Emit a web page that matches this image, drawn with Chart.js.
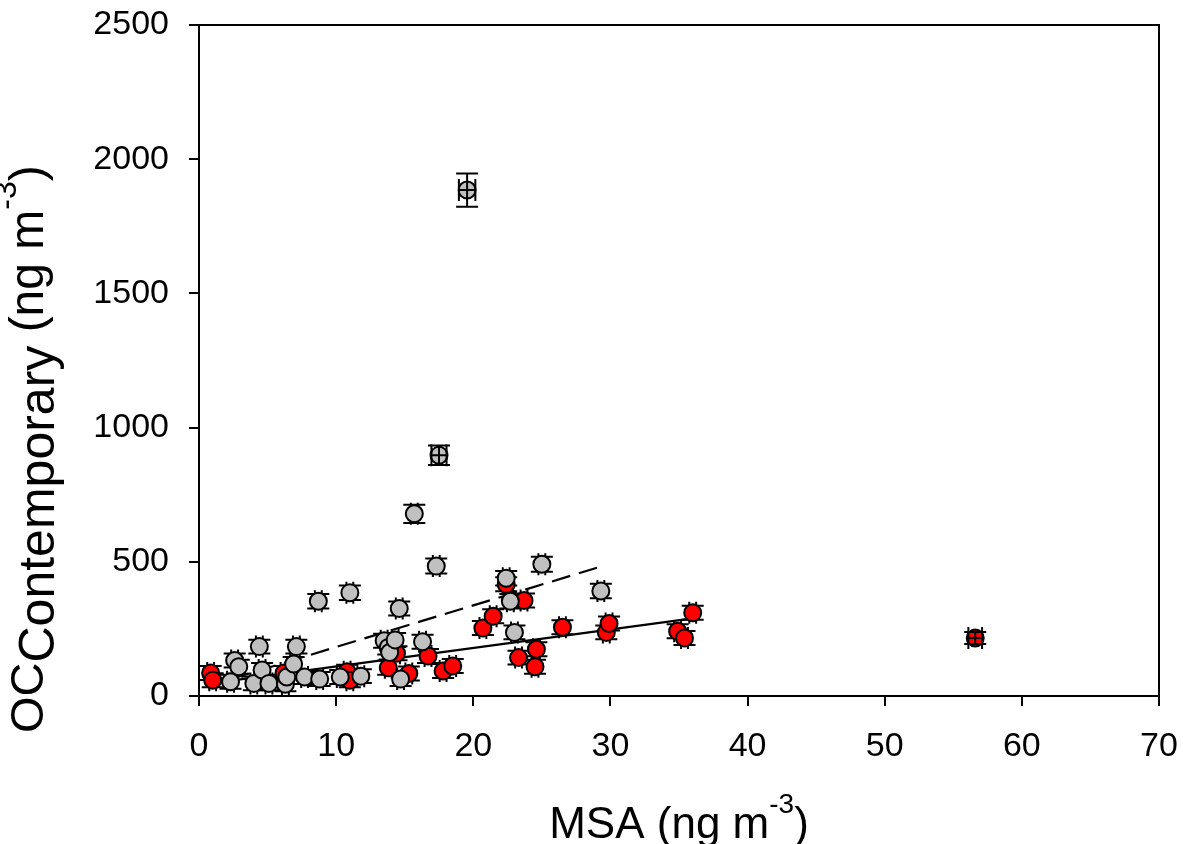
<!DOCTYPE html>
<html>
<head>
<meta charset="utf-8">
<script src="https://cdn.jsdelivr.net/npm/chart.js@4.4.1/dist/chart.umd.min.js"></script>
<style>
  html, body { margin: 0; padding: 0; background: #fff; }
  canvas { display: block; }
</style>
</head>
<body>
<canvas id="chart" width="1183" height="844"></canvas>
<script>
const FONT = "'Liberation Sans', Arial, sans-serif";

// MSA (ng m-3) vs contemporary OC (ng m-3), grey samples
const greyX = [2.3, 2.6, 2.9, 4.0, 4.4, 4.6, 5.1, 6.3, 6.4, 6.9, 7.1, 7.7, 8.7, 8.8, 10.3, 11.0,
  11.8, 13.5, 13.8, 13.9, 14.3, 14.6, 14.7, 15.7, 16.3, 17.3, 22.4, 22.7, 23.0, 25.0, 29.3];
const greyY = [53, 132, 109, 47, 184, 97, 47, 44, 71, 119, 184, 71, 353, 63, 71, 385,
  74, 206, 181, 162, 209, 326, 63, 679, 202, 484, 439, 353, 237, 491, 391];
const greyXErr = greyX.map(() => 0.25);
const greyYErr = [26, 26, 26, 26, 26, 26, 26, 26, 26, 26, 26, 26, 27, 26, 26, 27,
  26, 26, 26, 26, 26, 26, 26, 34, 26, 28, 27, 27, 26, 28, 27];

// grey samples left out of the dashed fit
const greyOutX = [17.5, 19.55];
const greyOutY = [897, 1885];
const greyOutXErr = [0.55, 0.6];
const greyOutYErr = [36, 62];

// red samples
const redX = [0.85, 1.0, 6.2, 10.8, 11.0, 13.8, 14.4, 15.3, 16.7, 17.8, 18.5, 20.7,
  21.45, 22.4, 23.3, 23.7, 24.5, 24.6, 26.5, 29.7, 29.9, 34.9, 35.4, 36.0];
const redY = [86, 59, 86, 90, 59, 105, 159, 84, 149, 93, 112, 253,
  297, 416, 143, 356, 109, 174, 256, 237, 270, 241, 216, 310];
const redXErr = redX.map(() => 0.25);
const redYErr = redY.map(() => 26);

// red sample left out of the solid fit
const redOutX = [56.6];
const redOutY = [216];
const redOutXErr = [0.5];
const redOutYErr = [22];

// regression lines (end points)
const redFitX = [0.85, 36.0];
const redFitY = [47, 289];
const greyFitX = [2.3, 29.3];
const greyFitY = [63, 482];

const xTicks = [0, 10, 20, 30, 40, 50, 60, 70];
const yTicks = [0, 500, 1000, 1500, 2000, 2500];

const pts = (xs, ys) => xs.map((x, i) => ({ x, y: ys[i] }));

const CAP = 11;

function drawErrorBars(chart, onTop) {
  const { ctx, scales: { x, y } } = chart;
  ctx.save();
  ctx.strokeStyle = "#000";
  ctx.lineWidth = 2;
  chart.data.datasets.forEach((ds) => {
    if (!ds.errY || !!ds.errOnTop !== onTop) return;
    ds.data.forEach((p, i) => {
      const px = x.getPixelForValue(p.x);
      const py = y.getPixelForValue(p.y);
      const top = y.getPixelForValue(p.y + ds.errY[i]);
      const bot = y.getPixelForValue(p.y - ds.errY[i]);
      const left = x.getPixelForValue(p.x - ds.errX[i]);
      const right = x.getPixelForValue(p.x + ds.errX[i]);
      ctx.beginPath();
      ctx.moveTo(px, top); ctx.lineTo(px, bot);
      ctx.moveTo(px - CAP, top); ctx.lineTo(px + CAP, top);
      ctx.moveTo(px - CAP, bot); ctx.lineTo(px + CAP, bot);
      ctx.moveTo(left, py); ctx.lineTo(right, py);
      ctx.moveTo(left, py - CAP); ctx.lineTo(left, py + CAP);
      ctx.moveTo(right, py - CAP); ctx.lineTo(right, py + CAP);
      ctx.stroke();
    });
  });
  ctx.restore();
}

// draws runs of text along one baseline; shift > 0 moves a run down
function drawRuns(ctx, runs, x0, y0) {
  let x = x0;
  for (const r of runs) {
    ctx.font = `${r.size}px ${FONT}`;
    ctx.fillText(r.text, x, y0 + (r.shift || 0));
    x += ctx.measureText(r.text).width;
  }
}
function runsWidth(ctx, runs) {
  let w = 0;
  for (const r of runs) {
    ctx.font = `${r.size}px ${FONT}`;
    w += ctx.measureText(r.text).width;
  }
  return w;
}

const errorBars = {
  id: "errorBars",
  beforeDatasetsDraw(chart) { drawErrorBars(chart, false); },
  afterDatasetsDraw(chart) { drawErrorBars(chart, true); },
};

const frameAndTitles = {
  id: "frameAndTitles",
  afterDraw(chart) {
    const { ctx, chartArea: a } = chart;
    ctx.save();
    ctx.strokeStyle = "#000";
    ctx.lineWidth = 2;
    ctx.strokeRect(a.left, a.top, a.right - a.left, a.bottom - a.top);

    ctx.fillStyle = "#000";
    ctx.textBaseline = "alphabetic";
    ctx.textAlign = "left";

    const xRuns = [
      { text: "MSA (ng m", size: 44 },
      { text: "-3", size: 28, shift: -25 },
      { text: ")", size: 44 },
    ];
    const xw = runsWidth(ctx, xRuns);
    drawRuns(ctx, xRuns, (a.left + a.right) / 2 - xw / 2, 838);

    const yRuns = [
      { text: "OC", size: 47 },
      { text: "Contemporary", size: 50, shift: 11 },
      { text: " (ng m", size: 48 },
      { text: "-3", size: 32, shift: -27 },
      { text: ")", size: 48 },
    ];
    ctx.translate(43, 733);
    ctx.rotate(-Math.PI / 2);
    drawRuns(ctx, yRuns, 0, 0);
    ctx.restore();
  },
};

const tickFont = { family: FONT, size: 34 };

const axisCommon = {
  type: "linear",
  grid: { drawOnChartArea: false, drawTicks: true, tickLength: 10, color: "#000", lineWidth: 2 },
  border: { color: "#000", width: 2 },
};

new Chart(document.getElementById("chart"), {
  type: "scatter",
  data: {
    datasets: [
      {
        label: "grey outliers",
        data: pts(greyOutX, greyOutY),
        errX: greyOutXErr, errY: greyOutYErr, errOnTop: true,
        backgroundColor: "#c0c0c0", borderColor: "#000", borderWidth: 2,
        pointRadius: 8.5, order: 1,
      },
      {
        label: "red outliers",
        data: pts(redOutX, redOutY),
        errX: redOutXErr, errY: redOutYErr, errOnTop: true,
        backgroundColor: "#ff0000", borderColor: "#000", borderWidth: 2,
        pointRadius: 8.5, order: 1,
      },
      {
        label: "grey",
        data: pts(greyX, greyY),
        errX: greyXErr, errY: greyYErr,
        backgroundColor: "#c0c0c0", borderColor: "#000", borderWidth: 2,
        pointRadius: 8.5, order: 2,
      },
      {
        label: "red",
        data: pts(redX, redY),
        errX: redXErr, errY: redYErr,
        backgroundColor: "#ff0000", borderColor: "#000", borderWidth: 2,
        pointRadius: 8.5, order: 3,
      },
      {
        label: "grey fit",
        data: pts(greyFitX, greyFitY),
        showLine: true, borderColor: "#000", borderWidth: 2.2,
        borderDash: [19, 9], pointRadius: 0, order: 4,
      },
      {
        label: "red fit",
        data: pts(redFitX, redFitY),
        showLine: true, borderColor: "#000", borderWidth: 2.2,
        pointRadius: 0, order: 4,
      },
    ],
  },
  options: {
    responsive: false,
    animation: false,
    clip: false,
    layout: { padding: { top: 25, right: 24, left: 0, bottom: 0 } },
    plugins: { legend: { display: false }, tooltip: { enabled: false } },
    scales: {
      x: {
        ...axisCommon,
        min: 0, max: 70,
        afterBuildTicks: (s) => { s.ticks = xTicks.map((v) => ({ value: v })); },
        ticks: { color: "#000", font: tickFont, padding: 20, maxRotation: 0, callback: (v) => String(v) },
        afterFit: (s) => { s.height = 148; s.paddingLeft = 0; s.paddingRight = 0; },
      },
      y: {
        ...axisCommon,
        min: 0, max: 2500,
        afterBuildTicks: (s) => { s.ticks = yTicks.map((v) => ({ value: v })); },
        ticks: { color: "#000", font: tickFont, padding: 20, callback: (v) => String(v) },
        afterFit: (s) => { s.width = 199; s.paddingTop = 0; s.paddingBottom = 0; },
      },
    },
  },
  plugins: [errorBars, frameAndTitles],
});
</script>
</body>
</html>
